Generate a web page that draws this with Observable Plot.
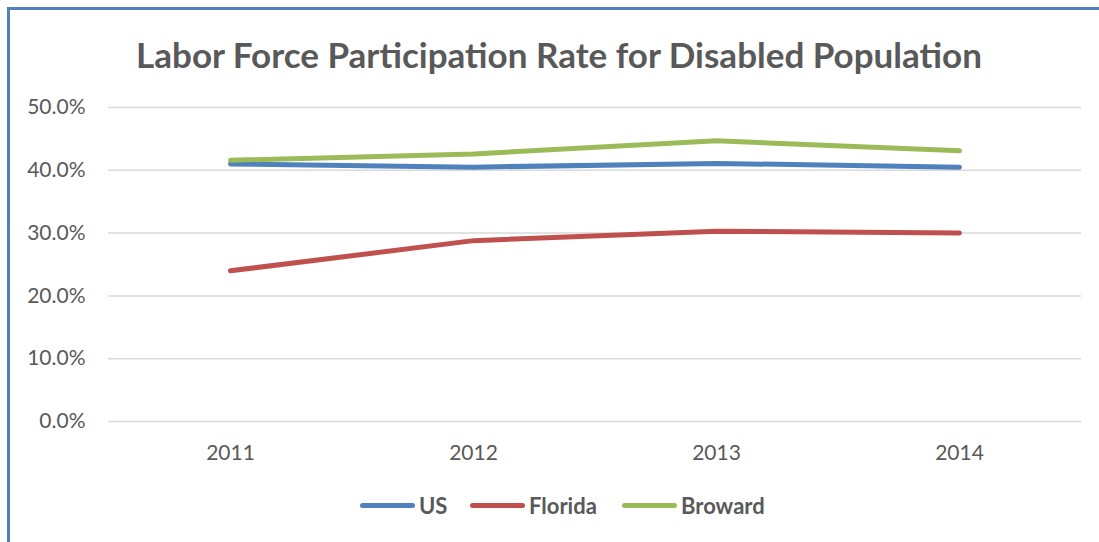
<!DOCTYPE html>
<html>
<head>
<meta charset="utf-8">
<script src="https://cdn.jsdelivr.net/npm/d3@7"></script>
<script src="https://cdn.jsdelivr.net/npm/@observablehq/plot@0.6"></script>
<style>
  html, body { margin: 0; padding: 0; background: #fff; }
  #wrap { position: relative; width: 1099px; height: 542px; overflow: hidden; font-family: Lato, "Open Sans", sans-serif; color: #595959; }
  #frame { position: absolute; left: 7px; top: 7px; width: 1200px; height: 700px; border-left: 3px solid #4F81BD; border-top: 3px solid #4F81BD; }
  #title { position: absolute; left: 0; width: 1118px; top: 33px; line-height: 42px; text-align: center; font-weight: bold; font-size: 35px; color: #595959; }
  #chart { position: absolute; left: 0; top: 0; }
  #legend { position: absolute; top: 490px; left: 0; width: 1099px; height: 30px; }
  .item { position: absolute; top: 0; display: flex; align-items: center; height: 30px; font-weight: bold; font-size: 22px; }
  .sw { display: inline-block; width: 55px; height: 5px; border-radius: 3px; margin-right: 4px; }
</style>
</head>
<body>
<div id="wrap">
  <div id="frame"></div>
  <div id="chart"></div>
  <div id="title">Labor Force Participation Rate for Disabled Population</div>
  <div id="legend"></div>
</div>
<script>
const years = ["2011", "2012", "2013", "2014"];
const seriesNames = ["US", "Florida", "Broward"];
const seriesColors = ["#4F81BD", "#C0504D", "#9BBB59"];
const usValues = [0.410, 0.405, 0.411, 0.405];
const floridaValues = [0.240, 0.288, 0.303, 0.300];
const browardValues = [0.416, 0.426, 0.447, 0.431];
const yTicks = [0, 0.1, 0.2, 0.3, 0.4, 0.5];

const valueLists = [usValues, floridaValues, browardValues];
const data = [];
seriesNames.forEach((s, i) => years.forEach((y, j) => data.push({series: s, year: y, value: valueLists[i][j]})));

const chart = Plot.plot({
  width: 1099,
  height: 542,
  marginTop: 107,
  marginBottom: 121,
  marginLeft: 108,
  marginRight: 18,
  style: {fontFamily: "Lato, 'Open Sans', sans-serif", background: "transparent", color: "#595959"},
  x: {type: "point", domain: years, padding: 0.5},
  y: {domain: [0, 0.5]},
  color: {domain: seriesNames, range: seriesColors},
  marks: [
    Plot.ruleY(yTicks, {stroke: "#D9D9D9", strokeWidth: 1.5}),
    Plot.axisY({ticks: yTicks, tickFormat: d3.format(".1%"), tickSize: 0, tickPadding: 23, fontSize: 21, fill: "#595959", label: null}),
    Plot.axisX({tickSize: 0, tickPadding: 24, fontSize: 21, fill: "#595959", label: null}),
    Plot.line(data, {x: "year", y: "value", z: "series", stroke: "series", strokeWidth: 5, strokeLinecap: "round", strokeLinejoin: "round"})
  ]
});
document.getElementById("chart").appendChild(chart);

const legend = document.getElementById("legend");
const lefts = [360, 470, 622];
seriesNames.forEach((s, i) => {
  const d = document.createElement("div");
  d.className = "item";
  d.style.left = lefts[i] + "px";
  const sw = document.createElement("span");
  sw.className = "sw";
  sw.style.background = seriesColors[i];
  d.appendChild(sw);
  d.appendChild(document.createTextNode(s));
  legend.appendChild(d);
});
</script>
</body>
</html>
